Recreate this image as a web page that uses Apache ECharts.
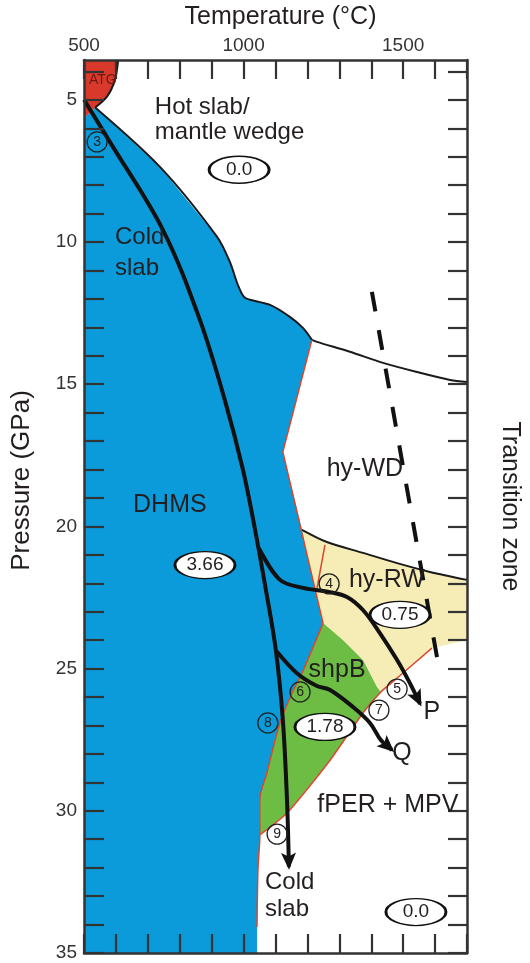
<!DOCTYPE html>
<html><head><meta charset="utf-8">
<script src="https://cdn.jsdelivr.net/npm/echarts@6/dist/echarts.min.js"></script>
<style>html,body{margin:0;padding:0;background:#fff}#c{width:530px;height:963px}</style>
</head><body><div id="c"></div>
<script>
// ---------- axis values ----------
const xLabelValues = [500, 1000, 1500];
const xTickValues = [500,600,700,800,900,1000,1100,1200,1300,1400,1500,1600,1700];
const yLabelValues = [5, 10, 15, 20, 25, 30, 35];
const yTickValues = [4,5,6,7,8,9,10,11,12,13,14,15,16,17,18,19,20,21,22,23,24,25,26,27,28,29,30,31,32,33,34,35];

// ---------- regions [T (°C), P (GPa)] ----------
const atgRegion = [[500,3.6],[607,3.6],[597,4.3],[572,4.89],[535,5.27],[500,5.65]];
const dhmsRegion = [[500,5.65],[535,5.27],[738,7.36],[917,9.82],[957,10.7],[982,11.51],[1001,11.93],[1020,12.03],[1083,12.21],[1145,12.63],[1186,13.02],[1214,13.44],[1123,17.38],[1183,20.12],[1224,22.17],[1249,23.4],[1183,25.16],[1152,25.86],[1114,26.91],[1073,28.67],[1051,29.62],[1051,30.85],[1045,32.08],[1042,34.09],[1042,35],[500,35]];
const rwRegion = [[1183,20.12],[1261,20.55],[1374,20.93],[1481,21.29],[1584,21.6],[1700,21.88],[1700,23.99],[1590,24.28],[1474,25.4],[1430,25.82],[1418,25.65],[1374,24.7],[1311,23.99],[1249,23.4],[1224,22.17]];
const shpbRegion = [[1249,23.4],[1311,23.99],[1374,24.7],[1418,25.65],[1430,25.82],[1374,26.56],[1271,28.22],[1136,30.08],[1051,30.85],[1051,29.62],[1073,28.67],[1114,26.91],[1152,25.86],[1183,25.16]];

// ---------- boundaries ----------
const atgBoundary = [[607,3.6],[597,4.3],[572,4.89],[535,5.27]];
const hotSlabBoundary = [[535,5.27],[738,7.36],[917,9.82],[957,10.7],[982,11.51],[1001,11.93],[1020,12.03],[1083,12.21],[1145,12.63],[1186,13.02],[1214,13.44]];
const wdBoundary = [[1214,13.44],[1230,13.51],[1333,13.86],[1437,14.25],[1543,14.57],[1647,14.85],[1700,14.92]];
const rwBoundary = [[1183,20.12],[1261,20.55],[1374,20.93],[1481,21.29],[1584,21.6],[1700,21.88]];
const dhmsEdgeUpper = [[1214,13.44],[1123,17.38],[1249,23.4]];
const dhmsEdgeLower = [[1249,23.4],[1183,25.16],[1152,25.86],[1114,26.91],[1073,28.67],[1051,29.62],[1051,30.85],[1045,32.08],[1042,34.09]];
const innerRwEdge = [[1255,20.65],[1230,22.17]];
const perEdge = [[1590,24.28],[1474,25.4],[1430,25.82],[1374,26.56],[1271,28.22],[1136,30.08],[1051,30.85]];
const transitionDash = [[1402,11.75],[1615,25.16]];

// ---------- slab paths ----------
const coldSlabPath = [[500,5.0],[581,6.48],[747,9.57],[863,12.74],[941,15.55],[998,18.01],[1036,20.12],[1070,22.24],[1101,24.35],[1123,26.8],[1136,29.62],[1142,31.97]];
const pathP = [[1048,20.76],[1114,21.88],[1186,22.16],[1271,22.31],[1324,22.48],[1374,22.94],[1427,23.75],[1481,24.7],[1521,25.51],[1553,26.24]];
const pathQ = [[1104,24.4],[1167,25.16],[1230,25.61],[1271,25.75],[1343,26.35],[1396,26.91],[1430,27.51],[1465,27.86]];

// ---------- annotations ----------
const circleMarks = [[541,6.48,'3'],[1268,22.02,'4'],[1481,25.72,'5'],[1177,25.82,'6'],[1424,26.46,'7'],[1076,26.91,'8'],[1105,30.82,'9']];
const waterBoxes = [[986,7.46,'0.0'],[879,21.36,'3.66'],[1490,23.11,'0.75'],[1255,27.05,'1.78'],[1540,33.56,'0.0']];
const centerTexts = [[1380,18.0,'hy-WD'],[769,19.25,'DHMS'],[1449,21.88,'hy-RW'],[1293,25.05,'shpB'],[1590,26.53,'P'],[1496,27.97,'Q'],[1452,29.8,'fPER + MPV']];
const leftTexts = [[722,5.25,'Hot slab/'],[722,6.13,'mantle wedge'],[597,9.82,'Cold'],[597,10.91,'slab'],[1067,32.5,'Cold'],[1067,33.46,'slab']];
const atgText = [[559,4.3,'ATG']];

const FONT = 'Liberation Sans, Arial, sans-serif';
const TXT = '#231f20';

function poly(points, color, z) {
  return {type:'custom', coordinateSystem:'cartesian2d', silent:true, z:z, data:[points[0]],
    renderItem:function(params, api){
      return {type:'polygon', shape:{points:points.map(function(p){return api.coord(p);})}, style:{fill:color}};
    }};
}
function line(points, color, width, smooth, z, type) {
  return {type:'line', data:points, symbol:'none', showSymbol:false, smooth:smooth, silent:true, z:z,
    lineStyle:{color:color, width:width, type:type || 'solid', cap:'butt', join:'round', opacity:1}};
}
function arrowHead(points) {
  const a = points[points.length-2], b = points[points.length-1];
  return {type:'custom', coordinateSystem:'cartesian2d', silent:true, z:7, data:[b],
    renderItem:function(params, api){
      const p1 = api.coord(a), p2 = api.coord(b);
      let dx = p2[0]-p1[0], dy = p2[1]-p1[1];
      const L = Math.hypot(dx, dy); dx/=L; dy/=L;
      const len = 17, w = 15;
      const tip = [p2[0]+dx*3, p2[1]+dy*3];
      const base = [tip[0]-dx*len, tip[1]-dy*len];
      const notch = [tip[0]-dx*len*0.78, tip[1]-dy*len*0.78];
      const nx = -dy, ny = dx;
      return {type:'polygon', shape:{points:[tip,[base[0]+nx*w/2, base[1]+ny*w/2], notch, [base[0]-nx*w/2, base[1]-ny*w/2]]}, style:{fill:'#111'}};
    }};
}
function texts(data, size, align, color) {
  return {type:'scatter', data:data, symbolSize:1, silent:true, z:9, itemStyle:{color:'rgba(0,0,0,0)', opacity:1},
    label:{show:true, position:'inside', align:align, opacity:1, formatter:function(p){return p.value[2];}, fontSize:size, fontFamily:FONT, color:color || TXT}};
}
const plain = function(v){ return String(v); };

const axisCommon = {type:'value', z:8,
  axisLine:{show:true, lineStyle:{color:'#333', width:2.5}},
  splitLine:{show:false}};

const option = {
  animation:false,
  backgroundColor:'#fff',
  grid:{left:84, right:63, top:60, bottom:10, containLabel:false},
  xAxis:[
    Object.assign({}, axisCommon, {position:'top', min:500, max:1700,
      name:'Temperature (°C)', nameLocation:'middle', nameGap:30,
      nameTextStyle:{fontSize:25, fontFamily:FONT, color:TXT, padding:[0,0,0,10]},
      axisTick:{show:true, inside:true, length:19, customValues:xTickValues, lineStyle:{color:'#333', width:2.2}},
      axisLabel:{show:true, customValues:xLabelValues, formatter:plain, margin:5, fontSize:19, fontFamily:FONT, color:'#333'}}),
    Object.assign({}, axisCommon, {position:'bottom', min:500, max:1700,
      axisTick:{show:true, inside:true, length:19, customValues:xTickValues, lineStyle:{color:'#333', width:2.2}},
      axisLabel:{show:false}})
  ],
  yAxis:[
    Object.assign({}, axisCommon, {position:'left', inverse:true, min:3.6, max:35,
      name:'Pressure (GPa)', nameLocation:'middle', nameRotate:90, nameGap:49,
      nameTextStyle:{fontSize:26, fontFamily:FONT, color:TXT, padding:[0,0,0,52]},
      axisTick:{show:true, inside:true, length:20, customValues:yTickValues, lineStyle:{color:'#333', width:2.2}},
      axisLabel:{show:true, customValues:yLabelValues, formatter:plain, margin:7, fontSize:19, fontFamily:FONT, color:'#333'}}),
    Object.assign({}, axisCommon, {position:'right', inverse:true, min:3.6, max:35,
      name:'Transition zone', nameLocation:'middle', nameRotate:-90, nameGap:30,
      nameTextStyle:{fontSize:25, fontFamily:FONT, color:TXT},
      axisTick:{show:true, inside:true, length:19, customValues:yTickValues, lineStyle:{color:'#333', width:2.2}},
      axisLabel:{show:false}})
  ],
  series:[
    poly(atgRegion, '#d8392b', 1),
    poly(dhmsRegion, '#0b9bdb', 1),
    poly(rwRegion, '#f6ecb6', 1),
    poly(shpbRegion, '#6dbd45', 1),
    line(atgBoundary, '#1a1a1a', 2, 0.3, 3),
    line(hotSlabBoundary, '#1a1a1a', 2, 0.3, 3),
    line(wdBoundary, '#1a1a1a', 2, 0.3, 3),
    line(rwBoundary, '#1a1a1a', 2, 0.3, 3),
    line(dhmsEdgeUpper, '#d9472f', 1.5, false, 3),
    line(dhmsEdgeLower, '#d9472f', 1.5, 0.3, 3),
    line(innerRwEdge, '#d9472f', 1.5, false, 3),
    line(perEdge, '#d9472f', 1.5, 0.2, 3),
    line(transitionDash, '#111', 4, false, 4, [20, 19]),
    line(coldSlabPath, '#111', 4, 0.35, 6),
    line(pathP, '#111', 4, 0.35, 6),
    line(pathQ, '#111', 4, 0.35, 6),
    arrowHead(coldSlabPath),
    arrowHead(pathP),
    arrowHead(pathQ),
    {type:'scatter', data:circleMarks, symbol:'circle', symbolSize:20, silent:true, z:10,
      itemStyle:{color:'rgba(255,255,255,0)', borderColor:'#222', borderWidth:1.3, opacity:1},
      label:{show:true, position:'inside', formatter:function(p){return p.value[2];}, fontSize:14, fontFamily:FONT, color:'#222'}},
    {type:'scatter', data:waterBoxes, symbol:'circle', symbolSize:[60,27], silent:true, z:10,
      itemStyle:{color:'#ffffff', borderColor:'#111', borderWidth:2, opacity:1},
      label:{show:true, position:'inside', formatter:function(p){return p.value[2];}, fontSize:19, fontFamily:FONT, color:TXT}},
    texts(centerTexts, 25, 'center'),
    texts(leftTexts, 24, 'left'),
    texts(atgText, 14, 'center', '#6e1a12')
  ]
};
const chart = echarts.init(document.getElementById('c'), null, {renderer:'canvas'});
chart.setOption(option);
</script></body></html>
